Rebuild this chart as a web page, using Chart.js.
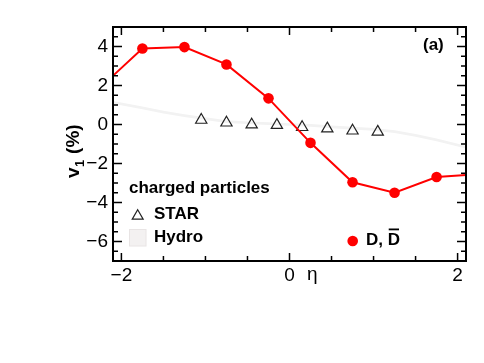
<!DOCTYPE html>
<html>
<head>
<meta charset="utf-8">
<script src="https://cdn.jsdelivr.net/npm/chart.js@4/dist/chart.umd.min.js"></script>
<style>
  html, body { margin: 0; padding: 0; background: #fff; }
  #wrap { width: 484px; height: 363px; }
</style>
</head>
<body>
<div id="wrap"><canvas id="v1Chart" width="484" height="363"></canvas></div>
<script>
// --- data ---
// D, Dbar (the two end points lie outside the frame, only the line reaches in)
const dEta = [-2.25, -1.75, -1.25, -0.75, -0.25, 0.25, 0.75, 1.25, 1.75, 2.25];
const dV1 = [1.9, 3.9, 3.97, 3.08, 1.34, -0.94, -2.96, -3.5, -2.69, -2.55];
const dErr = [0, 0.15, 0.05, 0.05, 0.05, 0.05, 0.05, 0.05, 0.18, 0];

// STAR charged particles
const starEta = [-1.05, -0.75, -0.45, -0.15, 0.15, 0.45, 0.75, 1.05];
const starV1 = [0.23, 0.09, -0.01, -0.03, -0.14, -0.21, -0.32, -0.38];

// Hydro charged particles (thin band)
const hydroEta = [-2.1, -1.75, -1.5, -1.25, -1.0, -0.75, -0.5, -0.25, 0, 0.25, 0.5, 0.75, 1.0, 1.25, 1.5, 1.75, 2.1];
const hydroHigh = [1.21, 0.92, 0.71, 0.52, 0.37, 0.22, 0.16, 0.11, 0.07, 0.02, -0.05, -0.11, -0.18, -0.29, -0.49, -0.72, -1.09];
const hydroLow = [1.07, 0.78, 0.57, 0.38, 0.23, 0.08, 0.02, -0.03, -0.07, -0.12, -0.19, -0.25, -0.32, -0.43, -0.63, -0.86, -1.23];

// axes
const xRange = [-2.1, 2.1];
const yRange = [-7, 5];
const xTickLabels = [-2, 0, 2];
const yTickLabels = [-6, -4, -2, 0, 2, 4];

const FONT = '"Liberation Sans", Arial, Helvetica, sans-serif';
const RED = "#ff0000";

function fmt(v) {
  return v < 0 ? "\u2212" + Math.abs(v) : String(v);
}

function pts(xs, ys) {
  return xs.map((x, i) => ({ x: x, y: ys[i] }));
}

// error bars for the D points
const errorBars = {
  id: "errorBars",
  beforeDatasetDraw(chart, args) {
    if (args.index !== 0) return;
    const { ctx, scales: { x, y } } = chart;
    ctx.save();
    ctx.strokeStyle = RED;
    ctx.lineWidth = 2;
    dEta.forEach((eta, i) => {
      if (eta < xRange[0] || eta > xRange[1] || !dErr[i]) return;
      const px = x.getPixelForValue(eta);
      ctx.beginPath();
      ctx.moveTo(px, y.getPixelForValue(dV1[i] - dErr[i]));
      ctx.lineTo(px, y.getPixelForValue(dV1[i] + dErr[i]));
      ctx.stroke();
    });
    ctx.restore();
  },
};

// ROOT style frame with inward ticks on all four sides, titles, legend
const frameAndText = {
  id: "frameAndText",
  afterDraw(chart) {
    const { ctx, chartArea: a, scales: { x, y } } = chart;
    ctx.save();
    ctx.strokeStyle = "#000";

    // ticks
    ctx.lineWidth = 1.5;
    ctx.beginPath();
    for (let i = -4; i <= 4; i++) {
      const v = i * 0.5;
      const px = x.getPixelForValue(v);
      const major = xTickLabels.includes(v);
      ctx.moveTo(px, a.bottom);
      ctx.lineTo(px, a.bottom - (major ? 8 : 5));
      ctx.moveTo(px, a.top);
      ctx.lineTo(px, a.top + (major ? 8 : 5));
    }
    for (let i = yRange[0] * 2; i <= yRange[1] * 2; i++) {
      const v = i * 0.5;
      const py = y.getPixelForValue(v);
      const major = yTickLabels.includes(v);
      ctx.moveTo(a.left, py);
      ctx.lineTo(a.left + (major ? 9 : 5), py);
      ctx.moveTo(a.right, py);
      ctx.lineTo(a.right - (major ? 9 : 5), py);
    }
    ctx.stroke();

    // frame
    ctx.lineWidth = 2;
    ctx.strokeRect(a.left, a.top, a.right - a.left, a.bottom - a.top);

    ctx.fillStyle = "#000";
    ctx.textBaseline = "alphabetic";

    // x title
    ctx.font = "19px " + FONT;
    ctx.textAlign = "left";
    ctx.fillText("\u03b7", 307, 280);

    // y title, rotated
    ctx.save();
    ctx.translate(79, 178);
    ctx.rotate(-Math.PI / 2);
    ctx.font = "bold 19px " + FONT;
    ctx.fillText("v", 0, 0);
    let w = ctx.measureText("v").width;
    ctx.font = "bold 13px " + FONT;
    ctx.fillText("1", w + 0.5, 5);
    w += ctx.measureText("1").width + 1;
    ctx.font = "bold 19px " + FONT;
    ctx.fillText(" (%)", w, 0);
    ctx.restore();

    // panel label
    ctx.font = "bold 17px " + FONT;
    ctx.fillText("(a)", 423, 50);

    // legend
    ctx.fillText("charged particles", 129, 193);
    ctx.fillText("STAR", 154, 219);
    ctx.fillText("Hydro", 154, 242);

    ctx.lineWidth = 1.2;
    ctx.strokeStyle = "#222";
    ctx.beginPath();
    const r = 6.3, cx = 137.7, cy = 216;
    ctx.moveTo(cx, cy - r);
    ctx.lineTo(cx + r * Math.sin((2 * Math.PI) / 3), cy + r / 2);
    ctx.lineTo(cx - r * Math.sin((2 * Math.PI) / 3), cy + r / 2);
    ctx.closePath();
    ctx.stroke();

    ctx.fillStyle = "#f3f1f1";
    ctx.fillRect(129.5, 229.5, 16.5, 16.5);
    ctx.strokeStyle = "#e8e4e4";
    ctx.lineWidth = 1;
    ctx.strokeRect(129.5, 229.5, 16.5, 16.5);

    ctx.fillStyle = RED;
    ctx.beginPath();
    ctx.arc(352.7, 241, 5.3, 0, Math.PI * 2);
    ctx.fill();

    ctx.fillStyle = "#000";
    ctx.font = "bold 17px " + FONT;
    ctx.fillText("D, D", 366, 245);
    const full = ctx.measureText("D, D").width;
    const lastD = ctx.measureText("D").width;
    ctx.fillRect(366 + full - lastD + 1, 228.5, lastD - 2, 1.8);

    ctx.restore();
  },
};

new Chart(document.getElementById("v1Chart"), {
  type: "line",
  data: {
    datasets: [
      {
        label: "D, Dbar",
        data: pts(dEta, dV1),
        borderColor: RED,
        borderWidth: 2,
        backgroundColor: RED,
        pointRadius: (c) => {
          const eta = c.raw && c.raw.x;
          return eta < xRange[0] || eta > xRange[1] ? 0 : 5.3;
        },
        pointBorderWidth: 0,
        tension: 0,
        fill: false,
        order: 0,
      },
      {
        label: "STAR",
        data: pts(starEta, starV1),
        showLine: false,
        pointStyle: "triangle",
        pointRadius: 6.5,
        pointBorderWidth: 1.2,
        pointBorderColor: "#222",
        pointBackgroundColor: "rgba(0,0,0,0)",
        order: 1,
      },
      {
        label: "Hydro",
        data: pts(hydroEta, hydroHigh),
        borderWidth: 0,
        pointRadius: 0,
        backgroundColor: "#f2f2f2",
        fill: "+1",
        order: 2,
      },
      {
        label: "Hydro low",
        data: pts(hydroEta, hydroLow),
        borderWidth: 0,
        pointRadius: 0,
        fill: false,
        order: 3,
      },
    ],
  },
  options: {
    responsive: false,
    devicePixelRatio: 1,
    animation: false,
    events: [],
    layout: { padding: { left: 0, right: 18, top: 27, bottom: 0 } },
    plugins: {
      legend: { display: false },
      tooltip: { enabled: false },
      title: { display: false },
    },
    scales: {
      x: {
        type: "linear",
        min: xRange[0],
        max: xRange[1],
        grid: { display: false, drawTicks: false, tickLength: 0 },
        border: { display: false },
        afterBuildTicks: (s) => {
          s.ticks = xTickLabels.map((v) => ({ value: v }));
        },
        afterFit: (s) => {
          s.height = 102;
        },
        ticks: {
          color: "#000",
          font: { family: FONT, size: 19 },
          padding: 3,
          maxRotation: 0,
          callback: (v) => fmt(v),
        },
      },
      y: {
        type: "linear",
        min: yRange[0],
        max: yRange[1],
        grid: { display: false, drawTicks: false, tickLength: 0 },
        border: { display: false },
        afterBuildTicks: (s) => {
          s.ticks = yTickLabels.map((v) => ({ value: v }));
        },
        afterFit: (s) => {
          s.width = 113;
        },
        ticks: {
          color: "#000",
          font: { family: FONT, size: 19 },
          padding: 5,
          callback: (v) => fmt(v),
        },
      },
    },
  },
  plugins: [errorBars, frameAndText],
});
</script>
</body>
</html>
